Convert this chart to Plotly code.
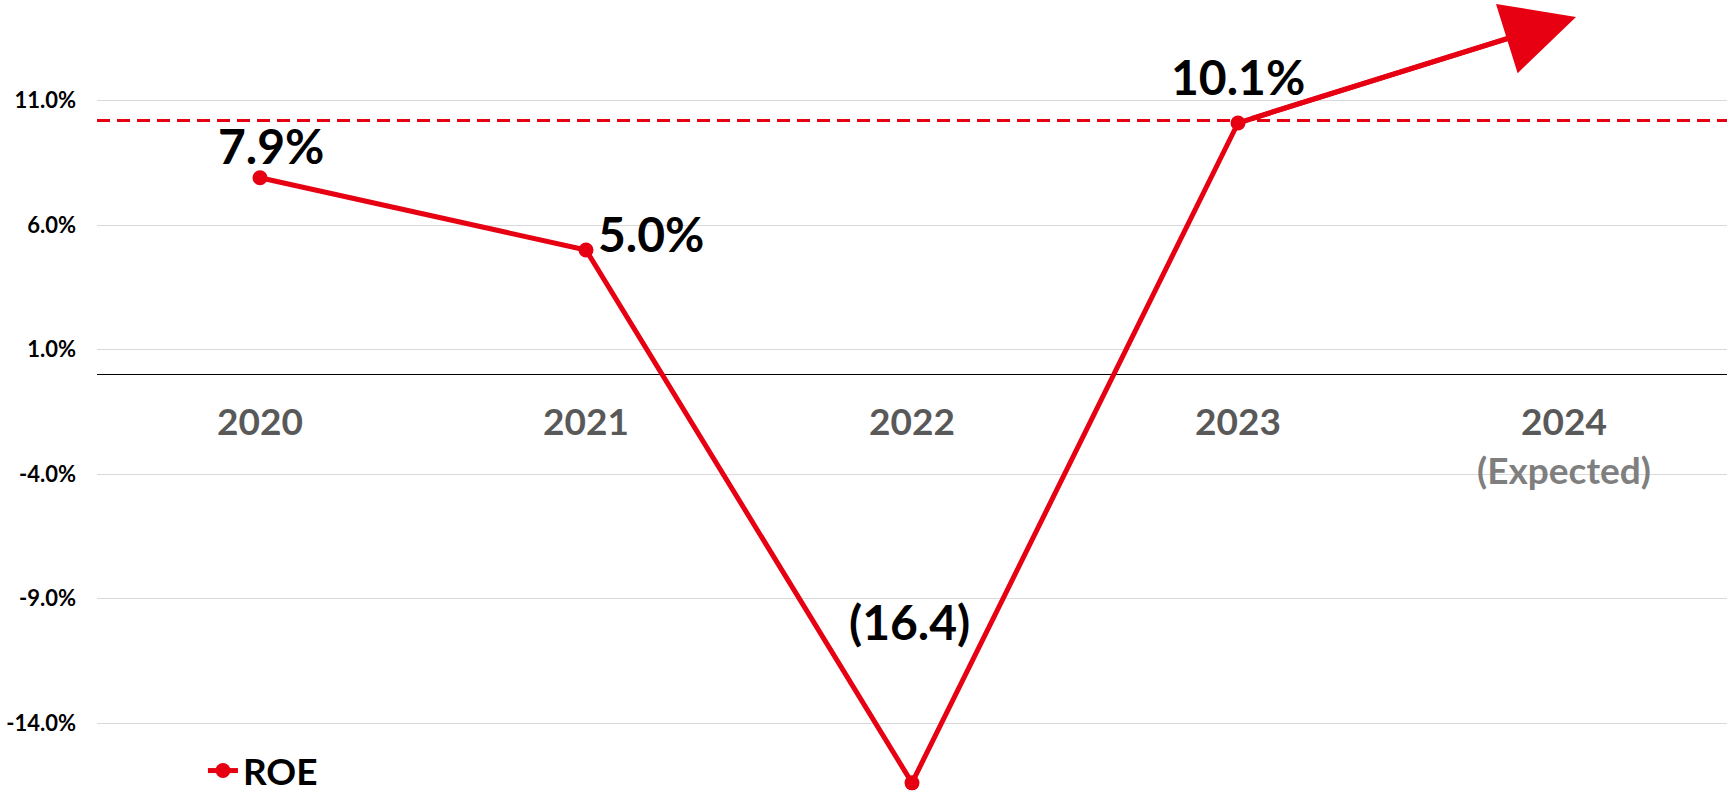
import plotly.graph_objects as go

# data
years = ["2020", "2021", "2022", "2023", "2024"]
roe = [7.9, 5.0, -16.4, 10.1]
roe_labels = ["7.9%", "5.0%", "(16.4)", "10.1%"]
roe_2024_expected = 14.2
target_line = 10.2
y_ticks = [-14.0, -9.0, -4.0, 1.0, 6.0, 11.0]

RED = "#e60012"
FONT = "Lato"

y_min, y_max = -17.17, 15.04
x_pos = list(range(len(years)))

fig = go.Figure()

# 2023 -> 2024 expectation segment (arrow head added below)
fig.add_trace(go.Scatter(
    x=x_pos[3:5], y=[roe[3], roe_2024_expected],
    mode="lines", line=dict(color=RED, width=5),
    showlegend=False, hoverinfo="skip",
))

fig.add_trace(go.Scatter(
    x=x_pos[:len(roe)], y=roe,
    mode="lines+markers",
    line=dict(color=RED, width=5),
    marker=dict(size=15, color=RED),
    name="ROE",
    cliponaxis=False,
))

fig.add_annotation(
    x=x_pos[4], y=roe_2024_expected,
    ax=x_pos[3], ay=roe[3],
    xref="x", yref="y", axref="x", ayref="y",
    xshift=12, yshift=4,
    showarrow=True, arrowhead=2, arrowsize=2.9, arrowwidth=5,
    arrowcolor=RED, text="",
)

# target dashed line
fig.add_shape(
    type="line", xref="paper", yref="y",
    x0=0, x1=1, y0=target_line, y1=target_line,
    line=dict(color=RED, width=3, dash="13px,7px"),
)

# data labels
shifts = [(11, 32, "center"), (10, 16, "left"), (-3, 161, "center"), (0, 47, "center")]
for i, (lab, (dx, dy, anc)) in enumerate(zip(roe_labels, shifts)):
    fig.add_annotation(
        x=x_pos[i], y=roe[i], text=lab, showarrow=False,
        xshift=dx, yshift=dy, xanchor=anc, yanchor="middle",
        font=dict(family=FONT, size=48, color="black", weight="bold"),
    )

tick_text = list(years)
tick_text[-1] = "2024<br><span style='color:#7f7f7f'>(Expected)</span>"
y_tick_text = [f"{v:.1f}%" for v in y_ticks]

fig.update_layout(
    width=1734, height=802,
    margin=dict(l=97, r=7, t=0, b=0),
    plot_bgcolor="white", paper_bgcolor="white",
    showlegend=True,
    legend=dict(
        x=0.065, y=0.0, xanchor="left", yanchor="bottom",
        font=dict(family=FONT, size=37, color="black", weight="bold"),
        bgcolor="rgba(0,0,0,0)",
    ),
    xaxis=dict(
        range=[-0.5, 4.5],
        tickvals=x_pos, ticktext=tick_text,
        showgrid=False, showline=False, zeroline=False,
        anchor="free", position=(0 - y_min) / (y_max - y_min),
        ticklabelstandoff=23,
        tickfont=dict(family=FONT, size=37, color="#595959", weight="bold"),
    ),
    yaxis=dict(
        range=[y_min, y_max],
        tickvals=y_ticks, ticktext=y_tick_text,
        showgrid=True, gridcolor="#d9d9d9", gridwidth=1,
        zeroline=True, zerolinecolor="black", zerolinewidth=1,
        showline=False, ticklabelstandoff=20,
        tickfont=dict(family=FONT, size=22, color="black", weight="bold"),
    ),
)

fig.write_html("out.html", config={"displayModeBar": False},
               post_script="document.body.style.margin='0';")
